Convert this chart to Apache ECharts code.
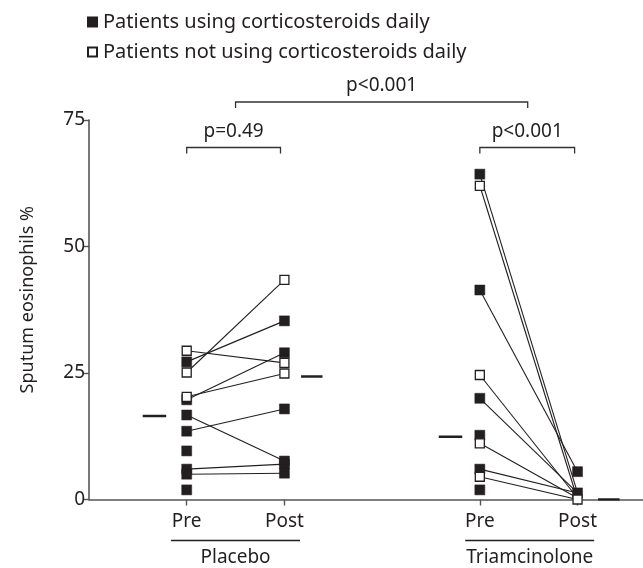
<!DOCTYPE html>
<html>
<head>
<meta charset="utf-8">
<script src="https://cdn.jsdelivr.net/npm/echarts@6/dist/echarts.min.js"></script>
<style>
html,body{margin:0;padding:0;background:#fff;}
#chart{width:643px;height:568px;}
</style>
</head>
<body>
<div id="chart"></div>
<script>
// ---- data ----
const groups = ['Placebo', 'Triamcinolone'];
const timeLabels = ['Pre', 'Post'];
const yTicks = [0, 25, 50, 75];
const legendNames = ['Patients using corticosteroids daily', 'Patients not using corticosteroids daily'];

const placeboPreFilled = [27.2, 19.7, 16.7, 13.5, 9.6, 6.0, 5.0, 1.9];
const placeboPreOpen = [29.4, 25.1, 20.3];
const placeboPostFilled = [35.3, 29.0, 17.9, 7.6, 7.0, 5.2];
const placeboPostOpen = [43.4, 27.0, 24.9];
const placeboLinks = [[29.4, 27.0], [27.2, 35.3], [25.1, 43.4], [20.3, 24.9], [19.7, 29.0], [16.7, 7.6], [13.5, 17.9], [6.0, 7.0], [5.0, 5.2]];

const triPreFilled = [64.3, 41.4, 20.0, 12.7, 6.0, 1.9];
const triPreOpen = [62.0, 24.6, 11.1, 4.5];
const triPostFilled = [5.5, 1.3];
const triPostOpen = [0];
const triLinks = [[64.3, 1.3], [62.0, 0], [41.4, 5.5], [24.6, 0.3], [20.0, 1.3], [11.1, 0.3], [6.0, 1.3], [4.5, 0]];

const meanPre = [16.5, 12.4];
const meanPost = [24.3, 0];
const pValues = ['p=0.49', 'p<0.001', 'p<0.001'];

// ---- layout (positions on the x value axis) ----
const preX = [1, 4];
const postX = [2, 5];
const meanPreSpan = [[0.55, 0.79], [3.58, 3.82]];
const meanPostSpan = [[2.17, 2.39], [5.21, 5.43]];

const FONT = '"Noto Sans"';
const TXT = '#231f20';
const INK = '#231f20';
const chart = echarts.init(document.getElementById('chart'));

const series = [];
function addLinks(links, gi) {
  links.forEach(l => {
    series.push({
      type: 'line', silent: true, symbol: 'none', z: 2,
      lineStyle: { color: INK, width: 1.1 },
      data: [[preX[gi], l[0]], [postX[gi], l[1]]]
    });
  });
}
addLinks(placeboLinks, 0);
addLinks(triLinks, 1);

[0, 1].forEach(gi => {
  series.push({
    type: 'line', silent: true, symbol: 'none', z: 2,
    lineStyle: { color: INK, width: 2.5 },
    data: [[meanPreSpan[gi][0], meanPre[gi]], [meanPreSpan[gi][1], meanPre[gi]]]
  });
  series.push({
    type: 'line', silent: true, symbol: 'none', z: 2,
    lineStyle: { color: INK, width: 2.5 },
    data: [[meanPostSpan[gi][0], meanPost[gi]], [meanPostSpan[gi][1], meanPost[gi]]]
  });
});

const filledData = []
  .concat(placeboPreFilled.map(v => [preX[0], v]))
  .concat(placeboPostFilled.map(v => [postX[0], v]))
  .concat(triPreFilled.map(v => [preX[1], v]))
  .concat(triPostFilled.map(v => [postX[1], v]));
const openData = []
  .concat(placeboPreOpen.map(v => [preX[0], v]))
  .concat(placeboPostOpen.map(v => [postX[0], v]))
  .concat(triPreOpen.map(v => [preX[1], v]))
  .concat(triPostOpen.map(v => [postX[1], v]));

series.push({
  name: legendNames[0], type: 'scatter', symbol: 'rect', symbolSize: 10, z: 5, clip: false,
  itemStyle: { color: INK, borderColor: INK, borderWidth: 0.5, opacity: 1 },
  data: filledData
});
series.push({
  name: legendNames[1], type: 'scatter', symbol: 'rect', symbolSize: 9, z: 6, clip: false,
  itemStyle: { color: '#fff', borderColor: INK, borderWidth: 1.3, opacity: 1 },
  data: openData
});

const option = {
  animation: false,
  backgroundColor: '#fff',
  textStyle: { fontFamily: FONT },
  legend: {
    orient: 'vertical', left: 82, top: 7, itemWidth: 9, itemHeight: 9, itemGap: 10,
    icon: 'rect', selectedMode: false,
    data: legendNames,
    textStyle: { fontFamily: FONT, fontSize: 20, color: TXT, padding: [0, 0, 0, 1] }
  },
  grid: { left: 89, right: 0, top: 120, bottom: 68.5, containLabel: false },
  xAxis: {
    type: 'value', min: 0, max: 5.67, interval: 1,
    splitLine: { show: false },
    axisLine: { lineStyle: { color: '#555', width: 1.6 } },
    axisTick: { customValues: preX.concat(postX), length: 6, lineStyle: { color: '#555', width: 1.4 } },
    axisLabel: {
      customValues: preX.concat(postX), margin: 13,
      fontFamily: FONT, fontSize: 19, color: TXT,
      formatter: v => (preX.indexOf(v) >= 0 ? timeLabels[0] : timeLabels[1])
    }
  },
  yAxis: {
    type: 'value', min: 0, max: 75, interval: 25,
    name: 'Sputum eosinophils %', nameLocation: 'middle', nameGap: 52,
    nameTextStyle: { fontFamily: FONT, fontSize: 18, color: TXT, padding: [0, 0, 0, 20] },
    splitLine: { show: false },
    axisLine: { show: true, lineStyle: { color: '#555', width: 1.6 } },
    axisTick: { show: true, length: 6, lineStyle: { color: '#555', width: 1.4 } },
    axisLabel: { fontFamily: FONT, fontSize: 19, color: TXT, margin: 4,
      formatter: v => (yTicks.indexOf(v) >= 0 ? String(v) : '') }
  },
  series: series
};
chart.setOption(option);

// ---- annotations: brackets and group labels ----
function px(x) { return chart.convertToPixel({ gridIndex: 0 }, [x, 0])[0]; }
const g = [];
function bracket(x1, x2, y, label) {
  const a = px(x1), b = px(x2);
  g.push({ type: 'polyline', silent: true, shape: { points: [[a, y + 6], [a, y], [b, y], [b, y + 6]] },
    style: { stroke: '#333', lineWidth: 1.3, fill: null } });
  g.push({ type: 'text', silent: true, x: (a + b) / 2, y: y - 16,
    style: { text: label, fontFamily: FONT, fontSize: 19, fill: TXT, align: 'center', verticalAlign: 'middle' } });
}
bracket(1, 1.96, 147.5, pValues[0]);
bracket(4, 4.97, 147.5, pValues[1]);
bracket(1.5, 4.49, 102, pValues[2]);

[[0.84, 2.16], [3.85, 5.17]].forEach((span, i) => {
  const a = px(span[0]), b = px(span[1]);
  g.push({ type: 'line', silent: true, shape: { x1: a, y1: 540.5, x2: b, y2: 540.5 },
    style: { stroke: INK, lineWidth: 1.3 } });
  g.push({ type: 'text', silent: true, x: (a + b) / 2, y: 558,
    style: { text: groups[i], fontFamily: FONT, fontSize: 19, fill: TXT, align: 'center', verticalAlign: 'middle' } });
});
chart.setOption({ graphic: g });
</script>
</body>
</html>
